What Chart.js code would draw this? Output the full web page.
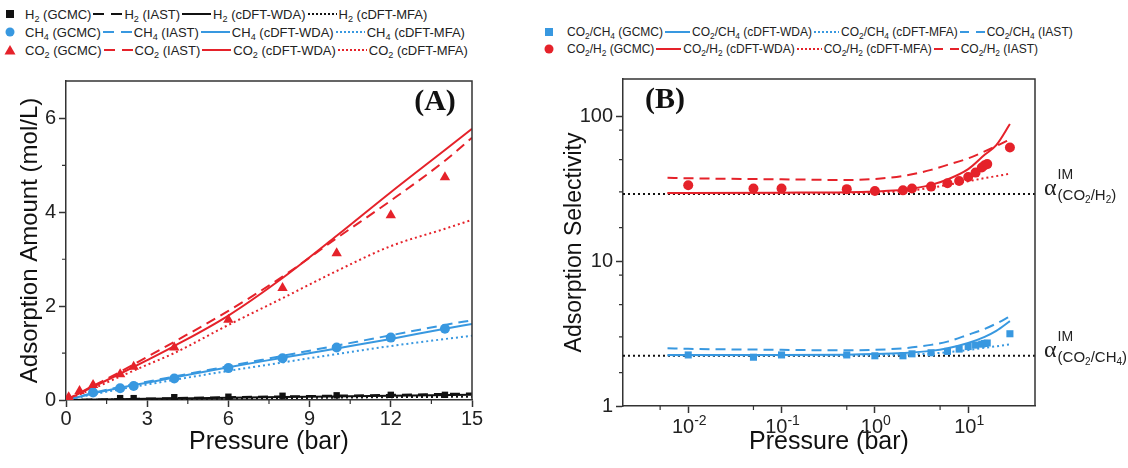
<!DOCTYPE html>
<html>
<head>
<meta charset="utf-8">
<script src="https://cdn.jsdelivr.net/npm/chart.js@4.4.1/dist/chart.umd.min.js"></script>
<style>
body{margin:0;background:#fff;width:1128px;height:468px;overflow:hidden;position:relative;font-family:"Liberation Sans",Arial,sans-serif;}
#wrapA{position:absolute;left:0;top:60px;width:520px;height:408px;}
#wrapB{position:absolute;left:540px;top:60px;width:588px;height:408px;}
.legend{position:absolute;font-size:13px;color:#222;z-index:2;}
#legendB{font-size:12px;}
.row{display:flex;align-items:center;height:18px;white-space:nowrap;}
#legendB .row{height:17px;}
.item{display:flex;align-items:center;}
.item svg{display:block;}
.line svg{margin:0 2px;}
sub{font-size:0.7em;vertical-align:-3px;line-height:0;}
</style>
</head>
<body>
<div id="legendA" class="legend" style="left:3px;top:5px;"></div>
<div id="legendB" class="legend" style="left:542px;top:23px;"></div>
<div id="wrapA"><canvas id="chartA"></canvas></div>
<div id="wrapB"><canvas id="chartB"></canvas></div>
<script>
// colours
const red = '#e5222a';
const blue = '#3898e0';
const black = '#111';
const axisColor = '#333';

// ---------- Panel A: adsorption amount vs pressure ----------
const pressureA = [0, 1, 2, 3, 4, 6, 8, 10, 12, 14, 15];
const co2WDA  = [0, 0.28, 0.56, 0.85, 1.15, 1.80, 2.60, 3.50, 4.43, 5.33, 5.78];
const co2IAST = [0, 0.30, 0.60, 0.92, 1.24, 1.90, 2.63, 3.45, 4.25, 5.10, 5.59];
const co2MFA  = [0, 0.24, 0.50, 0.75, 1.00, 1.60, 2.17, 2.75, 3.28, 3.65, 3.84];
const ch4WDA  = [0, 0.14, 0.26, 0.37, 0.48, 0.70, 0.90, 1.10, 1.30, 1.52, 1.62];
const ch4IAST = [0, 0.15, 0.28, 0.39, 0.50, 0.72, 0.94, 1.16, 1.38, 1.60, 1.70];
const ch4MFA  = [0, 0.12, 0.23, 0.33, 0.43, 0.62, 0.80, 0.98, 1.15, 1.30, 1.37];

const pressureH2Line = [0, 3, 6, 9, 12, 15];
const h2IAST = [0, 0.03, 0.06, 0.085, 0.11, 0.14];
const h2WDA  = [0, 0.025, 0.05, 0.07, 0.09, 0.11];
const h2MFA  = [0, 0.015, 0.03, 0.045, 0.06, 0.07];

const pressureCO2Gcmc = [0.1, 0.5, 1, 2, 2.5, 4, 6, 8, 10, 12, 14];
const co2Gcmc = [0.06, 0.19, 0.32, 0.55, 0.71, 1.12, 1.71, 2.39, 3.13, 3.94, 4.75];
const pressureCH4Gcmc = [1, 2, 2.5, 4, 6, 8, 10, 12, 14];
const ch4Gcmc = [0.16, 0.25, 0.30, 0.46, 0.68, 0.89, 1.12, 1.33, 1.52];
const pressureH2Gcmc = [2, 2.5, 4, 6, 8, 10, 12, 14];
const h2Gcmc = [0.04, 0.04, 0.06, 0.07, 0.09, 0.10, 0.11, 0.11];

const ticksAx = [0, 3, 6, 9, 12, 15];
const minorAx = [1.5, 4.5, 7.5, 10.5, 13.5];
const ticksAy = [0, 2, 4, 6];
const minorAy = [1, 3, 5];

// ---------- Panel B: selectivity vs pressure ----------
const pressureB = [0.006, 0.01, 0.1, 0.5, 1, 2, 4, 6, 10, 15, 20, 28];
const selH2WDA   = [29.5, 29.5, 29.6, 29.8, 30.2, 31.0, 33.5, 36.5, 43, 54, 63, 88];
const selH2IAST  = [37.5, 37.2, 36.6, 36.2, 36.8, 38.6, 42.5, 46, 51, 57, 62, 69];
const selH2MFA   = [29.3, 29.3, 29.3, 29.4, 29.6, 30.3, 32.0, 33.5, 35.5, 37.3, 38.5, 40];
const selCH4WDA  = [2.25, 2.25, 2.25, 2.26, 2.28, 2.32, 2.40, 2.50, 2.72, 3.00, 3.30, 3.85];
const selCH4IAST = [2.50, 2.48, 2.44, 2.42, 2.44, 2.50, 2.64, 2.78, 3.10, 3.40, 3.70, 4.15];
const selCH4MFA  = [2.23, 2.23, 2.23, 2.23, 2.24, 2.26, 2.30, 2.35, 2.43, 2.52, 2.58, 2.66];

const pressureBGcmc = [0.01, 0.05, 0.1, 0.5, 1, 2, 2.5, 4, 6, 8, 10, 12, 14, 15, 16, 28];
const selH2Gcmc  = [33.3, 31.6, 31.6, 31.3, 30.4, 30.7, 31.6, 32.6, 34.4, 35.6, 38.0, 40.7, 44.2, 45.8, 46.6, 60.7];
const selCH4Gcmc = [2.25, 2.17, 2.25, 2.25, 2.22, 2.22, 2.29, 2.33, 2.38, 2.47, 2.57, 2.63, 2.67, 2.70, 2.72, 3.15];

const idealH2 = 29.0;
const idealCH4 = 2.22;
const rangeBx = [0.002, 52];
const rangeBy = [1, 180];
const ticksBx = [0.01, 0.1, 1, 10];
const expBx = ['-2', '-1', '0', '1'];
const minorBx = [0.005, 0.05, 0.5, 5];
const ticksBy = [1, 10, 100];
const minorBy = [1.7, 3, 5, 8, 17, 30, 50, 80];

const dashed = [10, 6];
const dotted = [2, 3];

function pts(xs, ys) {
    return xs.map((x, i) => ({x: x, y: ys[i]}));
}
function lineSet(label, xs, ys, color, dash) {
    return {
        label: label, data: pts(xs, ys), showLine: true, borderColor: color,
        borderWidth: 2, borderDash: dash || [], pointRadius: 0,
        cubicInterpolationMode: 'monotone'
    };
}
function markSet(label, xs, ys, color, style, r) {
    return {
        label: label, data: pts(xs, ys), showLine: false, pointStyle: style,
        pointRadius: r, pointHoverRadius: r, backgroundColor: color, borderColor: color, borderWidth: 0
    };
}

// ---------- legends (html, real text) ----------
const legendA = [
    [
        {m: 'rect', c: black, t: 'H<sub>2</sub> (GCMC)'},
        {d: dashed, c: black, t: 'H<sub>2</sub> (IAST)'},
        {d: [], c: black, t: 'H<sub>2</sub> (cDFT-WDA)'},
        {d: dotted, c: black, t: 'H<sub>2</sub> (cDFT-MFA)'}
    ],
    [
        {m: 'circle', c: blue, t: 'CH<sub>4</sub> (GCMC)'},
        {d: dashed, c: blue, t: 'CH<sub>4</sub> (IAST)'},
        {d: [], c: blue, t: 'CH<sub>4</sub> (cDFT-WDA)'},
        {d: dotted, c: blue, t: 'CH<sub>4</sub> (cDFT-MFA)'}
    ],
    [
        {m: 'triangle', c: red, t: 'CO<sub>2</sub> (GCMC)'},
        {d: dashed, c: red, t: 'CO<sub>2</sub> (IAST)'},
        {d: [], c: red, t: 'CO<sub>2</sub> (cDFT-WDA)'},
        {d: dotted, c: red, t: 'CO<sub>2</sub> (cDFT-MFA)'}
    ]
];
const legendB = [
    [
        {m: 'rect', c: blue, t: 'CO<sub>2</sub>/CH<sub>4</sub> (GCMC)'},
        {d: [], c: blue, t: 'CO<sub>2</sub>/CH<sub>4</sub> (cDFT-WDA)'},
        {d: dotted, c: blue, t: 'CO<sub>2</sub>/CH<sub>4</sub> (cDFT-MFA)'},
        {d: dashed, c: blue, t: 'CO<sub>2</sub>/CH<sub>4</sub> (IAST)'}
    ],
    [
        {m: 'circle', c: red, t: 'CO<sub>2</sub>/H<sub>2</sub> (GCMC)'},
        {d: [], c: red, t: 'CO<sub>2</sub>/H<sub>2</sub> (cDFT-WDA)'},
        {d: dotted, c: red, t: 'CO<sub>2</sub>/H<sub>2</sub> (cDFT-MFA)'},
        {d: dashed, c: red, t: 'CO<sub>2</sub>/H<sub>2</sub> (IAST)'}
    ]
];

function sample(s, w) {
    if (s.m) {
        let shape;
        if (s.m === 'rect') shape = `<rect x="3" y="3" width="8" height="8" fill="${s.c}"/>`;
        else if (s.m === 'circle') shape = `<circle cx="7" cy="7" r="4.5" fill="${s.c}"/>`;
        else shape = `<polygon points="7,2 12.5,11.5 1.5,11.5" fill="${s.c}"/>`;
        return `<svg width="14" height="14">${shape}</svg>`;
    }
    let dash = s.d.length ? `stroke-dasharray="${s.d === dashed ? (w > 27 ? '11 7' : '9 7') : '2 2'}"` : '';
    return `<svg width="${w}" height="8"><line x1="0" y1="4" x2="${w}" y2="4" stroke="${s.c}" stroke-width="2" ${dash}/></svg>`;
}
function buildLegend(el, rows, gap, w) {
    el.innerHTML = rows.map(r => '<div class="row">' + r.map(s =>
        `<span class="item ${s.m ? 'mark' : 'line'}">${sample(s, w)}<span style="margin-left:${s.m ? gap : 0}px">${s.t}</span></span>`
    ).join('') + '</div>').join('');
}
buildLegend(document.getElementById('legendA'), legendA, 8, 29);
buildLegend(document.getElementById('legendB'), legendB, 11, 25);

// ---------- frame, minor ticks and labels ----------
function richText(ctx, x, y, parts) {
    // parts: [text, size, dy]
    parts.forEach(p => {
        ctx.font = p[1] + 'px "Liberation Sans", Arial, sans-serif';
        ctx.fillText(p[0], x, y + (p[2] || 0));
        x += ctx.measureText(p[0]).width;
    });
    return x;
}

const framePlugin = {
    id: 'frame',
    afterDraw(chart, args, opts) {
        const {ctx, chartArea: a} = chart;
        const xs = chart.scales.x, ys = chart.scales.y;
        ctx.save();
        ctx.strokeStyle = axisColor;
        ctx.lineWidth = 1.5;
        ctx.beginPath();
        ctx.moveTo(a.left, a.top);
        ctx.lineTo(a.right, a.top);
        ctx.lineTo(a.right, a.bottom);
        ctx.stroke();

        ctx.lineWidth = 1.2;
        ctx.beginPath();
        opts.minorX.forEach(v => {
            const p = xs.getPixelForValue(v);
            ctx.moveTo(p, a.bottom); ctx.lineTo(p, a.bottom + 4);
        });
        opts.minorY.forEach(v => {
            const p = ys.getPixelForValue(v);
            ctx.moveTo(a.left, p); ctx.lineTo(a.left - 4, p);
        });
        ctx.stroke();

        ctx.fillStyle = '#111';
        ctx.font = 'bold 30px "Liberation Serif", "Times New Roman", serif';
        ctx.textAlign = 'center';
        ctx.textBaseline = 'middle';
        ctx.fillText(opts.tag, opts.tagSide === 'right' ? a.right - 37 : a.left + 42, a.top + 21);

        ctx.textAlign = 'left';
        ctx.textBaseline = 'alphabetic';
        ctx.fillStyle = '#222';
        if (opts.expLabels) {
            ticksBx.forEach((v, i) => {
                const p = xs.getPixelForValue(v);
                ctx.font = '20px "Liberation Sans", Arial, sans-serif';
                const w1 = ctx.measureText('10').width;
                ctx.font = '14px "Liberation Sans", Arial, sans-serif';
                const w2 = ctx.measureText(expBx[i]).width;
                const x0 = p - (w1 + w2) / 2 + 1;
                richText(ctx, x0, a.bottom + 27, [['10', 20, 0], [expBx[i], 14, -8]]);
            });
        }
        if (opts.alphas) {
            opts.alphas.forEach(al => {
                const y = ys.getPixelForValue(al.value);
                const x0 = a.right + 9;
                ctx.font = '24px "Liberation Serif", "DejaVu Serif", serif';
                ctx.fillText('α', x0, y + 1);
                const x1 = x0 + ctx.measureText('α').width + 1;
                richText(ctx, x1, y - 15, [['IM', 14, 0]]);
                richText(ctx, x1, y + 6, al.sub);
            });
        }
        ctx.restore();
    }
};

function axisFont(size) {
    return {family: '"Liberation Sans", Arial, sans-serif', size: size, lineHeight: 1};
}
function baseAxis(extra) {
    return Object.assign({
        border: {display: true, color: axisColor, width: 1.5},
        grid: {drawOnChartArea: false, drawTicks: true, tickLength: 7, tickColor: axisColor, tickWidth: 1.5, color: axisColor},
    }, extra);
}

// ---------- chart A ----------
new Chart(document.getElementById('chartA'), {
    type: 'scatter',
    data: {
        datasets: [
            markSet('CO2 (GCMC)', pressureCO2Gcmc, co2Gcmc, red, 'triangle', 6),
            markSet('CH4 (GCMC)', pressureCH4Gcmc, ch4Gcmc, blue, 'circle', 5),
            markSet('H2 (GCMC)', pressureH2Gcmc, h2Gcmc, black, 'rect', 4.5),
            lineSet('CO2 (IAST)', pressureA, co2IAST, red, dashed),
            lineSet('CO2 (cDFT-WDA)', pressureA, co2WDA, red),
            lineSet('CO2 (cDFT-MFA)', pressureA, co2MFA, red, dotted),
            lineSet('CH4 (IAST)', pressureA, ch4IAST, blue, dashed),
            lineSet('CH4 (cDFT-WDA)', pressureA, ch4WDA, blue),
            lineSet('CH4 (cDFT-MFA)', pressureA, ch4MFA, blue, dotted),
            lineSet('H2 (IAST)', pressureH2Line, h2IAST, black, dashed),
            lineSet('H2 (cDFT-WDA)', pressureH2Line, h2WDA, black),
            lineSet('H2 (cDFT-MFA)', pressureH2Line, h2MFA, black, dotted)
        ]
    },
    options: {
        responsive: true,
        maintainAspectRatio: false,
        animation: false,
        layout: {padding: {left: 0, top: 21, right: 48, bottom: 0}},
        plugins: {
            legend: {display: false},
            tooltip: {enabled: false},
            frame: {minorX: minorAx, minorY: minorAy, tag: '(A)', tagSide: 'right'}
        },
        scales: {
            x: baseAxis({
                type: 'linear', min: 0, max: 15,
                afterBuildTicks: s => { s.ticks = ticksAx.map(v => ({value: v})); },
                afterFit: s => { s.height = 68; },
                ticks: {font: axisFont(20), color: '#222', padding: 2, autoSkip: false},
                title: {display: true, text: 'Pressure (bar)', font: axisFont(25), color: '#111', padding: {top: 0, bottom: 13}}
            }),
            y: baseAxis({
                type: 'linear', min: 0, max: 6.8,
                afterBuildTicks: s => { s.ticks = ticksAy.map(v => ({value: v})); },
                afterFit: s => { s.width = 66; },
                ticks: {font: axisFont(20), color: '#222', padding: 3, autoSkip: false},
                title: {display: true, text: 'Adsorption Amount (mol/L)', font: axisFont(24), color: '#111', padding: {top: 18, bottom: 0}}
            })
        }
    },
    plugins: [framePlugin]
});

// ---------- chart B ----------
new Chart(document.getElementById('chartB'), {
    type: 'scatter',
    data: {
        datasets: [
            markSet('CO2/H2 (GCMC)', pressureBGcmc, selH2Gcmc, red, 'circle', 5),
            markSet('CO2/CH4 (GCMC)', pressureBGcmc, selCH4Gcmc, blue, 'rect', 5),
            lineSet('CO2/H2 (cDFT-WDA)', pressureB, selH2WDA, red),
            lineSet('CO2/H2 (cDFT-MFA)', pressureB, selH2MFA, red, dotted),
            lineSet('CO2/H2 (IAST)', pressureB, selH2IAST, red, dashed),
            lineSet('CO2/CH4 (cDFT-WDA)', pressureB, selCH4WDA, blue),
            lineSet('CO2/CH4 (cDFT-MFA)', pressureB, selCH4MFA, blue, dotted),
            lineSet('CO2/CH4 (IAST)', pressureB, selCH4IAST, blue, dashed),
            lineSet('ideal CO2/H2', rangeBx, [idealH2, idealH2], black, dotted),
            lineSet('ideal CO2/CH4', rangeBx, [idealCH4, idealCH4], black, dotted)
        ]
    },
    options: {
        responsive: true,
        maintainAspectRatio: false,
        animation: false,
        layout: {padding: {left: 0, top: 19, right: 93, bottom: 0}},
        plugins: {
            legend: {display: false},
            tooltip: {enabled: false},
            frame: {
                minorX: minorBx, minorY: minorBy, tag: '(B)', tagSide: 'left', expLabels: true,
                alphas: [
                    {value: idealH2, sub: [['(CO', 15, 0], ['2', 10, 3], ['/H', 15, 0], ['2', 10, 3], [')', 15, 0]]},
                    {value: idealCH4, sub: [['(CO', 15, 0], ['2', 10, 3], ['/CH', 15, 0], ['4', 10, 3], [')', 15, 0]]}
                ]
            }
        },
        scales: {
            x: baseAxis({
                type: 'logarithmic', min: rangeBx[0], max: rangeBx[1],
                afterBuildTicks: s => { s.ticks = ticksBx.map(v => ({value: v})); },
                afterFit: s => { s.height = 62; },
                ticks: {font: axisFont(20), color: '#222', padding: 2, autoSkip: false, callback: () => ''},
                title: {display: true, text: 'Pressure (bar)', font: axisFont(25), color: '#111', padding: {top: 0, bottom: 13}}
            }),
            y: baseAxis({
                type: 'logarithmic', min: rangeBy[0], max: rangeBy[1],
                afterBuildTicks: s => { s.ticks = ticksBy.map(v => ({value: v})); },
                afterFit: s => { s.width = 83; },
                ticks: {font: axisFont(20), color: '#222', padding: 3, autoSkip: false, callback: v => String(v)},
                title: {display: true, text: 'Adsorption Selectivity', font: axisFont(23), color: '#111', padding: {top: 23, bottom: 0}}
            })
        }
    },
    plugins: [framePlugin]
});
</script>
</body>
</html>
